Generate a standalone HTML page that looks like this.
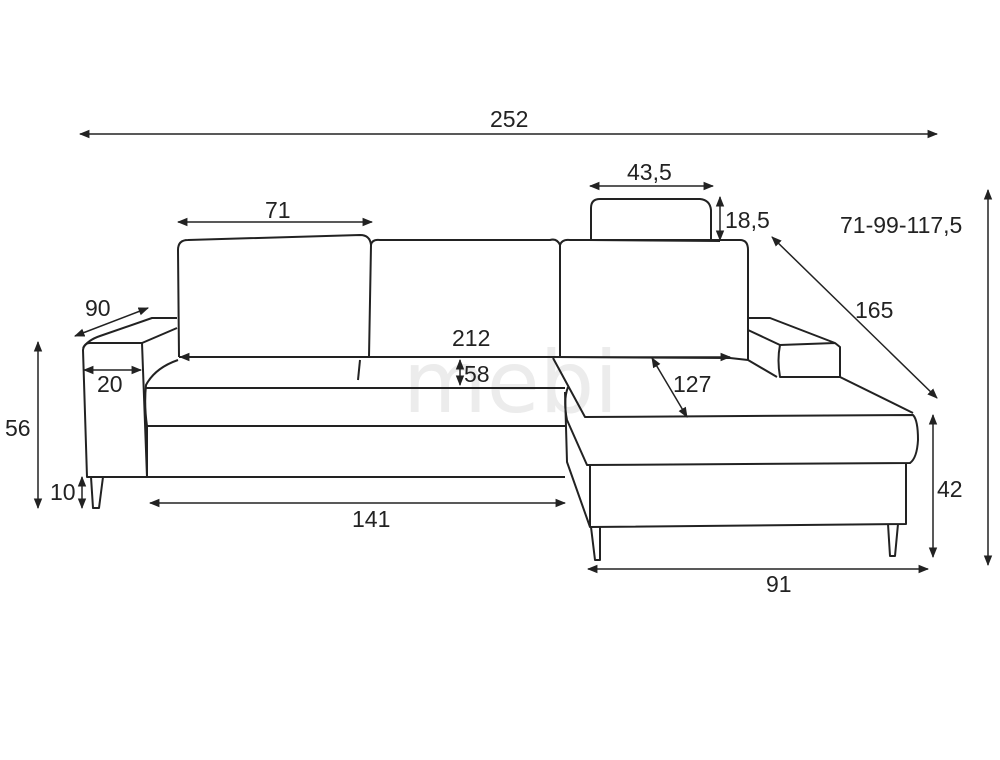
<!DOCTYPE html>
<html><head><meta charset="utf-8"><style>
html,body{margin:0;padding:0;background:#fff}
svg{display:block}
text{font-family:"Liberation Sans",sans-serif;font-size:23px;fill:#222}
</style></head><body>
<svg width="1000" height="760" viewBox="0 0 1000 760" xmlns="http://www.w3.org/2000/svg">
<defs>
<marker id="a" viewBox="0 0 10 10" refX="9" refY="5" markerWidth="7" markerHeight="7" orient="auto-start-reverse"><path d="M0,1 L10,5 L0,9 z" fill="#222"/></marker>
</defs>
<text x="403" y="412" style="font-size:86px;fill:#ececec;font-family:'DejaVu Sans',sans-serif">mebi</text>
<g fill="none" stroke="#222" stroke-width="2" stroke-linejoin="round">
<path d="M87,477 L83,350 Q84,343 90,343 L142,343 L147,477 Z"/>
<path d="M83,348 Q88,340 100,336 L152,318 L177,318"/>
<path d="M142,343 L177,328"/>
<path d="M179,357 L178,250 Q178,240 188,240 L360,235 Q370,235 371,245 L369,357"/>
<path d="M371,245 Q372,239 380,240 L550,240 Q557,238 560,245 L560,357"/>
<path d="M560,245 Q562,239 570,240 L740,240 Q748,240 748,250 L748,360"/>
<path d="M179,357 L553,357 L730,358 L748,360"/>
<path d="M178,360 Q155,368 146,385 Q144,405 147,426 L147,477 L565,477"/>
<path d="M146,388 L565,388"/>
<path d="M147,426 L565,426"/>
<path d="M360,360 L358,380"/>
<path d="M91,477 L93,508 L99,508 L103,477"/>
<path d="M553,358 L585,417 L913,415 Q918,420 918,440 Q917,458 910,463 L587,465 L567,420 Q563,400 568,387"/>
<path d="M565,392 L567,462 L590,527"/>
<path d="M590,465 L590,527 L906,524 L906,463"/>
<path d="M748,360 L777,377"/>
<path d="M591,527 L595,560 L600,560 L600,527"/>
<path d="M888,524 L890,556 L895,556 L898,524"/>
<path d="M748,318 L770,318 L835,343 L840,347 L840,377 L780,377 Q777,360 780,345 L835,343"/>
<path d="M748,330 L780,345"/>
<path d="M840,377 L913,413"/>
<path d="M591,240 L591,208 Q591,199 600,199 L700,199 Q710,200 711,210 L711,240"/>
<path d="M588,240 L720,241"/>
</g>
<g stroke="#222" stroke-width="1.5" fill="none" marker-start="url(#a)" marker-end="url(#a)">
<line x1="80" y1="134" x2="937" y2="134"/>
<line x1="178" y1="222" x2="372" y2="222"/>
<line x1="590" y1="186" x2="713" y2="186"/>
<line x1="720" y1="197" x2="720" y2="240"/>
<line x1="988" y1="190" x2="988" y2="565"/>
<line x1="772" y1="237" x2="937" y2="398"/>
<line x1="75" y1="336" x2="148" y2="308"/>
<line x1="84" y1="370" x2="141" y2="370"/>
<line x1="180" y1="357" x2="730" y2="357"/>
<line x1="460" y1="360" x2="460" y2="385"/>
<line x1="652" y1="358" x2="687" y2="417"/>
<line x1="38" y1="342" x2="38" y2="508"/>
<line x1="82" y1="477" x2="82" y2="508"/>
<line x1="150" y1="503" x2="565" y2="503"/>
<line x1="933" y1="415" x2="933" y2="557"/>
<line x1="588" y1="569" x2="928" y2="569"/>
</g>
<text x="490" y="127">252</text>
<text x="265" y="218">71</text>
<text x="627" y="180">43,5</text>
<text x="725" y="228">18,5</text>
<text x="840" y="233">71-99-117,5</text>
<text x="855" y="318">165</text>
<text x="85" y="316">90</text>
<text x="97" y="392">20</text>
<text x="452" y="346">212</text>
<text x="464" y="382">58</text>
<text x="673" y="392">127</text>
<text x="5" y="436">56</text>
<text x="50" y="500">10</text>
<text x="352" y="527">141</text>
<text x="937" y="497">42</text>
<text x="766" y="592">91</text>
</svg>
</body></html>
